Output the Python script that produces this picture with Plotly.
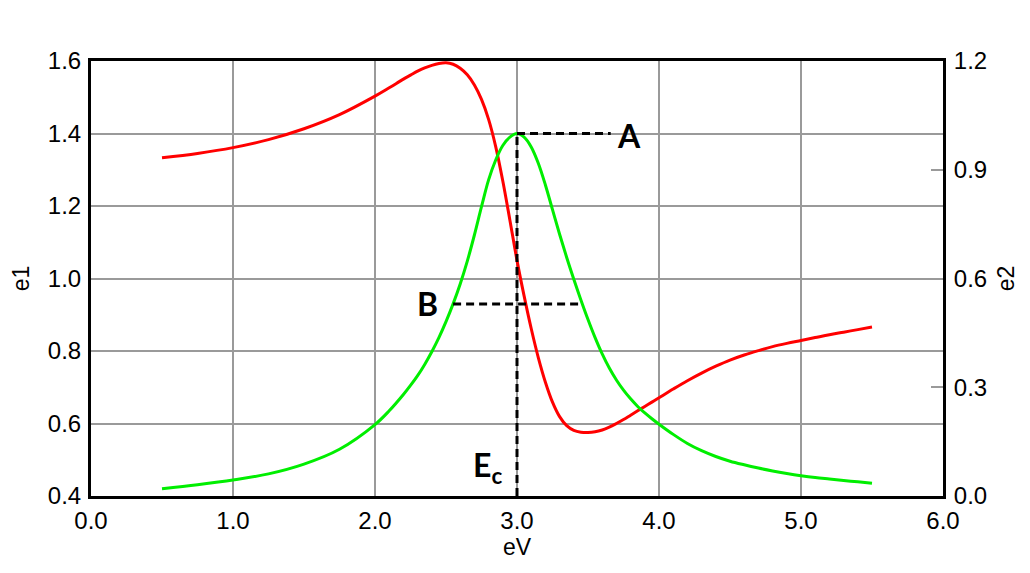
import plotly.graph_objects as go

# Photon energy (eV) grid shared by both components
ev = [0.5, 0.75, 1.0, 1.25, 1.5, 1.75, 2.0, 2.1, 2.2,
      2.25, 2.3, 2.35, 2.4, 2.45, 2.5, 2.55, 2.6, 2.65, 2.7, 2.75, 2.8, 2.85, 2.9, 2.95,
      3.0, 3.05, 3.1, 3.15, 3.2, 3.25, 3.3, 3.35, 3.4, 3.45, 3.5, 3.55, 3.6, 3.65, 3.7,
      3.75, 3.8, 3.85, 3.9, 3.95, 4.0,
      4.1, 4.2, 4.3, 4.4, 4.5, 4.6, 4.7, 4.8, 4.9, 5.0, 5.1, 5.2, 5.3, 5.4, 5.5]

# Real part of the dielectric function (left axis)
e1 = [1.333, 1.345, 1.361, 1.383, 1.413, 1.452, 1.503, 1.526, 1.550,
      1.561, 1.572, 1.581, 1.588, 1.593, 1.595, 1.591, 1.580, 1.562, 1.534, 1.494, 1.439,
      1.364, 1.269, 1.161,
      1.050, 0.952, 0.862, 0.782, 0.714, 0.659, 0.619, 0.594, 0.581, 0.576, 0.575, 0.577,
      0.582, 0.590, 0.600, 0.611, 0.623, 0.635, 0.647, 0.659, 0.671,
      0.695, 0.718, 0.739, 0.758, 0.775, 0.789, 0.801, 0.812, 0.821, 0.829, 0.837, 0.845,
      0.852, 0.859, 0.866]

# Imaginary part of the dielectric function (right axis)
e2 = [0.020, 0.031, 0.044, 0.061, 0.088, 0.129, 0.197, 0.235, 0.280,
      0.305, 0.332, 0.363, 0.398, 0.437, 0.481, 0.530, 0.585, 0.648, 0.720, 0.798, 0.872,
      0.927, 0.967, 0.990,
      1.000, 0.990, 0.963, 0.918, 0.858, 0.790, 0.722, 0.658, 0.598, 0.541, 0.487, 0.437,
      0.392, 0.353, 0.320, 0.292, 0.268, 0.247, 0.229, 0.213, 0.198,
      0.170, 0.145, 0.125, 0.109, 0.096, 0.086, 0.077, 0.069, 0.062, 0.056, 0.051, 0.047,
      0.043, 0.039, 0.035]

# Annotation values
EC = 3.0            # resonance energy
E2_PEAK = 1.0       # peak of e2 (point A)
A_LINE_END = 3.66
B_LEVEL = 0.53      # e2 level of width marker B
B_LEFT, B_RIGHT = 2.55, 3.465

x_ticks = [0, 1, 2, 3, 4, 5, 6]
x_ticklabels = ["0.0", "1.0", "2.0", "3.0", "4.0", "5.0", "6.0"]
y1_ticks = [0.4, 0.6, 0.8, 1.0, 1.2, 1.4, 1.6]
y1_ticklabels = ["0.4", "0.6", "0.8", "1.0", "1.2", "1.4", "1.6"]
y2_ticks = [0.0, 0.3, 0.6, 0.9, 1.2]
y2_ticklabels = ["0.0", "0.3", "0.6", "0.9", "1.2"]

FONT = "Liberation Sans, Arial, sans-serif"
BOLD = "Lato, sans-serif"
GRID = "#9a9a9a"

fig = go.Figure()
fig.add_trace(go.Scatter(x=ev, y=e1, mode="lines",
                         line=dict(color="#ff0000", width=3, shape="spline", smoothing=1.0),
                         name="e1", yaxis="y"))
fig.add_trace(go.Scatter(x=ev, y=e2, mode="lines",
                         line=dict(color="#00ee00", width=3, shape="spline", smoothing=1.0),
                         name="e2", yaxis="y2"))

dash = dict(color="black", width=3, dash="8px,5px")
fig.add_shape(type="line", xref="x", yref="y2", x0=EC, x1=A_LINE_END, y0=E2_PEAK, y1=E2_PEAK, line=dash)
fig.add_shape(type="line", xref="x", yref="y2", x0=EC, x1=EC, y0=0, y1=E2_PEAK, line=dash)
fig.add_shape(type="line", xref="x", yref="y2", x0=B_LEFT, x1=B_RIGHT, y0=B_LEVEL, y1=B_LEVEL, line=dash)

ann_font = dict(family=BOLD, size=32, color="black")
fig.add_annotation(x=3.79, y=0.995, xref="x", yref="y2", text="<b>A</b>", showarrow=False, font=ann_font)
fig.add_annotation(x=2.37, y=0.53, xref="x", yref="y2", text="<b>B</b>", showarrow=False, font=ann_font)
fig.add_annotation(x=2.79, y=0.08, xref="x", yref="y2", text="<b>E<sub>c</sub></b>", showarrow=False, font=ann_font)

fig.update_layout(
    width=1030, height=573,
    margin=dict(l=80, r=95, t=53, b=85),
    paper_bgcolor="white", plot_bgcolor="white",
    showlegend=False,
    font=dict(family=FONT, size=24, color="black"),
    xaxis=dict(range=[0, 6], tickvals=x_ticks, ticktext=x_ticklabels, showgrid=True,
               gridcolor=GRID, gridwidth=1.5, showline=True, linecolor="black", linewidth=3,
               mirror=True, ticks="", zeroline=False, ticklabelstandoff=1,
               title=dict(text="eV", font=dict(size=23), standoff=4)),
    yaxis=dict(range=[0.4, 1.6], tickvals=y1_ticks, ticktext=y1_ticklabels, showgrid=True,
               gridcolor=GRID, gridwidth=1.5, showline=True, linecolor="black", linewidth=3,
               mirror=True, ticks="", zeroline=False, ticklabelstandoff=2,
               title=dict(text="e1", font=dict(size=23), standoff=12)),
    yaxis2=dict(range=[0, 1.2], tickvals=y2_ticks, ticktext=y2_ticklabels, overlaying="y",
                side="right", showgrid=False, showline=True, linecolor="black", linewidth=3,
                ticks="inside", ticklen=12, tickcolor=GRID, tickwidth=1.5, zeroline=False,
                ticklabelstandoff=3,
                title=dict(text="e2", font=dict(size=23), standoff=12)),
)

fig.write_html("out.html")
